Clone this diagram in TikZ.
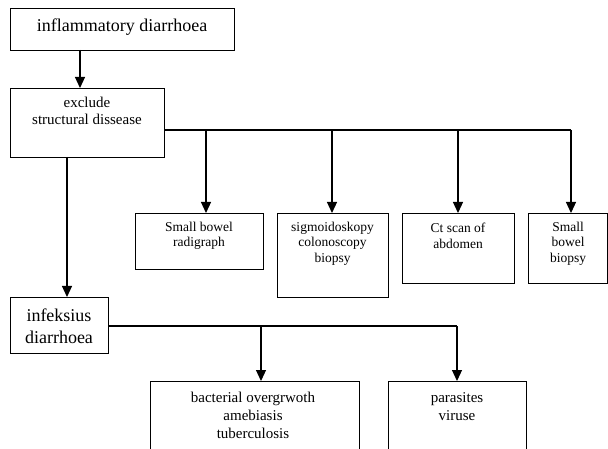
\documentclass[tikz,border=0pt]{standalone}
\usepackage{fontspec}
\setmainfont{Liberation Serif}
\usetikzlibrary{arrows.meta}
\begin{document}
\begin{tikzpicture}[x=1pt,y=-1pt,
  box/.style={draw,line width=1.2pt,inner sep=0pt,anchor=north west},
  txt/.style={align=center,inner sep=0pt},
  big/.style={txt,font=\fontsize{18}{22}\selectfont},
  mid/.style={txt,font=\fontsize{15}{16.5}\selectfont},
  small/.style={txt,font=\fontsize{13.5}{15.5}\selectfont},
  low/.style={txt,font=\fontsize{15}{18}\selectfont},
  wire/.style={line width=1.2pt},
  arr/.style={wire,-{Triangle[length=11pt,width=10pt]}}]
\clip (0,0) rectangle (608,449);
\useasboundingbox (0,0) rectangle (608,449);
\fill[white] (0,0) rectangle (608,449);

% boxes
\node[box,minimum width=224pt,minimum height=42pt] (top) at (10,8) {};
\node[box,minimum width=154pt,minimum height=69pt] (excl) at (10,88) {};
\node[box,minimum width=128pt,minimum height=56pt] (A) at (135,213) {};
\node[box,minimum width=111pt,minimum height=84pt] (B) at (277,213) {};
\node[box,minimum width=112pt,minimum height=70pt] (C) at (402,213) {};
\node[box,minimum width=79pt,minimum height=70pt] (D) at (528,213) {};
\node[box,minimum width=98pt,minimum height=56pt] (inf) at (10,297) {};
\node[box,minimum width=209pt,minimum height=100pt] (E) at (150,381) {};
\node[box,minimum width=138pt,minimum height=100pt] (F) at (388,381) {};

% labels
\node[big] (topT) at (122,27) {inflammatory diarrhoea};
\node[mid] (exclT) at (87,111) {exclude\\structural dissease};
\node[small] (AT) at (199,236) {Small bowel\\radigraph};
\node[small] (BT) at (332.5,243.5) {sigmoidoskopy\\colonoscopy\\biopsy};
\node[small] (CT) at (458,236) {Ct scan of\\abdomen};
\node[small] (DT) at (568,243.5) {Small\\bowel\\biopsy};
\node[big] (infT) at (59,326.5) {infeksius\\diarrhoea};
\node[low] (ET) at (253,415.5) {bacterial overgrwoth\\amebiasis\\tuberculosis};
\node[low] (FT) at (457,407) {parasites\\viruse};

% bus junctions
\coordinate (j1) at (206,130);
\coordinate (j2) at (332,130);
\coordinate (j3) at (458,130);
\coordinate (j4) at (571,130);
\coordinate (k1) at (261,326);
\coordinate (k2) at (457,326);
\coordinate (m1) at (80,50);
\coordinate (m2) at (67,157);

% connectors
\draw[arr] (m1) -- (m1 |- excl.north);
\draw[wire] (excl.east |- j1) -- (j4);
\draw[arr] (j1) -- (j1 |- A.north);
\draw[arr] (j2) -- (j2 |- B.north);
\draw[arr] (j3) -- (j3 |- C.north);
\draw[arr] (j4) -- (j4 |- D.north);
\draw[arr] (m2) -- (m2 |- inf.north);
\draw[wire] (inf.east |- k1) -- (k2);
\draw[arr] (k1) -- (k1 |- E.north);
\draw[arr] (k2) -- (k2 |- F.north);
\end{tikzpicture}
\end{document}
